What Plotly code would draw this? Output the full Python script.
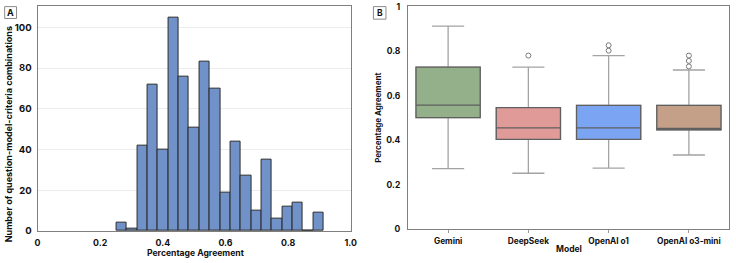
import plotly.graph_objects as go

# ---------------- Panel A data (histogram) ----------------
bin_start = 0.252
bin_width = 0.0331
bin_counts = [4, 1, 42, 72, 40, 105, 76, 51, 83, 70, 19, 44, 27, 10, 35, 6, 12, 14, 0, 9]
hist_xtickvals = [0, 0.2, 0.4, 0.6, 0.8, 1.0]
hist_xticktext = ["0", "0.2", "0.4", "0.6", "0.8", "1.0"]
hist_ytickvals = [0, 20, 40, 60, 80, 100]

# ---------------- Panel B data (box plots) ----------------
models = ["Gemini", "DeepSeek", "OpenAI o1", "OpenAI o3-mini"]
q1 = [0.502, 0.404, 0.404, 0.447]
medians = [0.558, 0.456, 0.456, 0.453]
q3 = [0.729, 0.547, 0.557, 0.557]
lower_whisker = [0.273, 0.252, 0.275, 0.334]
upper_whisker = [0.913, 0.729, 0.781, 0.716]
outlier_models = ["DeepSeek", "OpenAI o1", "OpenAI o1", "OpenAI o3-mini", "OpenAI o3-mini", "OpenAI o3-mini"]
outlier_values = [0.781, 0.803, 0.827, 0.732, 0.757, 0.781]
box_colors = ["#93B08A", "#E09A98", "#7BA5F2", "#C4A088"]
box_ytickvals = [0, 0.2, 0.4, 0.6, 0.8, 1.0]
box_yticktext = ["0", "0.2", "0.4", "0.6", "0.8", "1"]

W, H = 736, 263
FONT = "Inter"


def px(x):
    return x / W


def py(y):
    return 1 - y / H


def bold(size):
    return dict(family=FONT, size=size, color="#111111", weight="bold")


fig = go.Figure()

# Histogram bars
centers = [bin_start + (i + 0.5) * bin_width for i in range(len(bin_counts))]
fig.add_trace(go.Bar(
    x=centers, y=bin_counts, width=bin_width,
    marker=dict(color="#7092C8", line=dict(color="#2b2b2b", width=1)),
    xaxis="x", yaxis="y", showlegend=False, hoverinfo="x+y",
))

# Box plots: whisker layer (light grey) + box layer (dark outline)
for m, a, md, b, lo, hi, c in zip(models, q1, medians, q3, lower_whisker, upper_whisker, box_colors):
    fig.add_trace(go.Box(
        x=[m], q1=[a], median=[md], q3=[b], lowerfence=[lo], upperfence=[hi],
        width=0.8, whiskerwidth=0.5, fillcolor=c,
        line=dict(color="#a3a3a3", width=1.3), boxpoints=False,
        xaxis="x2", yaxis="y2", showlegend=False,
    ))
    fig.add_trace(go.Box(
        x=[m], q1=[a], median=[md], q3=[b], lowerfence=[a], upperfence=[b],
        width=0.8, whiskerwidth=0, fillcolor=c,
        line=dict(color="#5f5f5f", width=1.3), boxpoints=False,
        xaxis="x2", yaxis="y2", showlegend=False,
    ))

fig.add_trace(go.Scatter(
    x=outlier_models, y=outlier_values, mode="markers",
    marker=dict(symbol="circle-open", size=5, color="#7a7a7a", line=dict(width=1)),
    xaxis="x2", yaxis="y2", showlegend=False,
))

axis_common = dict(showline=True, mirror=True, linecolor="#7f7f7f", linewidth=1, zeroline=False,
                   ticklabeloverflow="allow")

fig.update_layout(
    width=W, height=H,
    margin=dict(l=0, r=0, t=0, b=0),
    paper_bgcolor="white", plot_bgcolor="white",
    boxmode="overlay", bargap=0,
    font=dict(family=FONT, size=9, color="#111111"),
    xaxis=dict(domain=[px(35), px(352)], range=[0, 1.0], tickvals=hist_xtickvals,
               ticktext=hist_xticktext, showgrid=False, ticks="", ticklabelstandoff=3,
               tickfont=bold(8.8), anchor="y", **axis_common),
    yaxis=dict(domain=[py(235), py(1.7)], range=[0, 110.7], tickvals=hist_ytickvals,
               showgrid=True, gridcolor="#ececec", gridwidth=1, ticks="",
               ticklabelstandoff=3, tickfont=bold(9.5), anchor="x", **axis_common),
    xaxis2=dict(domain=[px(410), px(735)], range=[-0.5, 3.5], type="category",
                categoryorder="array", categoryarray=models, showgrid=False,
                ticks="outside", ticklen=3, tickcolor="#9a9a9a", ticklabelstandoff=1,
                tickfont=bold(8.3), anchor="y2", **axis_common),
    yaxis2=dict(domain=[py(233.3), py(2)], range=[0, 1.004], tickvals=box_ytickvals,
                ticktext=box_yticktext, showgrid=False, ticks="", ticklabelstandoff=5,
                tickfont=bold(8.5), anchor="x2", **axis_common),
)

annotations = [
    dict(text="Number of question-model-criteria combinations", x=px(5), y=py(135),
         textangle=-90, font=bold(9)),
    dict(text="Percentage Agreement", x=px(195), y=py(258.3), font=bold(8.6)),
    dict(text="Model", x=px(573), y=py(254), font=bold(8.5)),
    dict(text="Percentage Agreement", x=px(380), y=py(117.5), textangle=-90, font=bold(8)),
    dict(text="A", x=px(7.7), y=py(8.8), font=bold(9)),
    dict(text="B", x=px(381.3), y=py(9.2), font=bold(8.5)),
]
for a in annotations:
    a.update(xref="paper", yref="paper", showarrow=False, xanchor="center", yanchor="middle")
fig.update_layout(annotations=annotations)

fig.update_layout(shapes=[
    dict(type="rect", xref="paper", yref="paper", x0=px(1.7), x1=px(13.7), y0=py(15), y1=py(2.7),
         line=dict(color="#8a8a8a", width=1)),
    dict(type="rect", xref="paper", yref="paper", x0=px(375), x1=px(387.7), y0=py(15.7), y1=py(2.7),
         line=dict(color="#8a8a8a", width=1)),
])

fig.write_html(
    "out.html",
    config={"displayModeBar": False},
    post_script="document.body.style.margin='0';document.body.style.padding='0';"
                "document.body.style.overflow='hidden';",
)
